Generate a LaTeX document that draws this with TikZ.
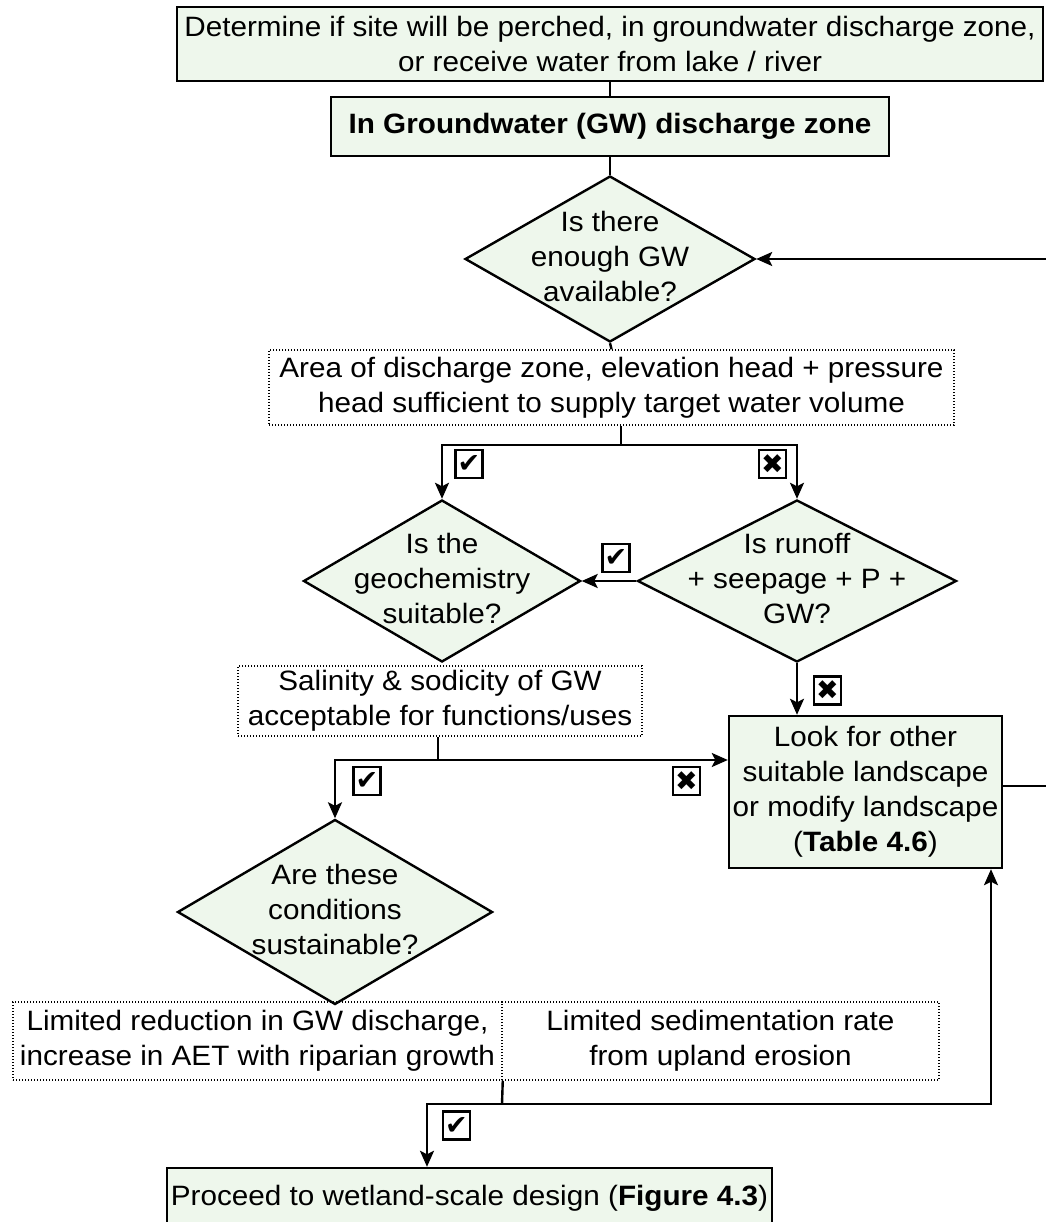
\documentclass[tikz,border=0pt]{standalone}
\usepackage{fontspec}
\setmainfont{Liberation Sans}[FakeStretch=1.06]
\newfontfamily\symfont{DejaVu Sans}
\usetikzlibrary{shapes.geometric,arrows.meta}
\definecolor{boxfill}{RGB}{238,247,236}
\newcommand\dtext[1]{\makebox[0pt]{\raisebox{-0.25em}[0pt][0pt]{\begin{tabular}{@{}c@{}}#1\end{tabular}}}}
\tikzset{
  txt/.style={font=\fontsize{28}{35}\selectfont},
  solidbox/.style={txt,draw,line width=2.4pt,fill=boxfill,align=center,inner sep=0pt},
  dotbox/.style={txt,draw,line width=1.5pt,dash pattern=on 1.4pt off 1.6pt,align=center,inner sep=0pt},
  decision/.style={txt,diamond,draw,line width=2.4pt,fill=boxfill,inner sep=0pt},
  conn/.style={line width=2.4pt},
  arr/.style={conn,-{Stealth[length=16pt,width=14pt,inset=3.5pt]}},
  markbox/.style={draw,line width=2.6pt,minimum width=27pt,minimum height=28pt,inner sep=0pt,font=\symfont\fontsize{27}{27}\selectfont}
}
\begin{document}
\begin{tikzpicture}[x=1pt,y=-1pt]
\useasboundingbox (0,0) rectangle (1045,1222);
% boxes
\node[solidbox,minimum width=866,minimum height=74] (top) at (610,44)
  {Determine if site will be perched, in groundwater discharge zone,\\or receive water from lake / river};
\node[solidbox,minimum width=558,minimum height=59] (gw) at (610,126.5)
  {\textbf{In Groundwater (GW) discharge zone}};
\node[decision,minimum width=290,minimum height=166] (d1) at (610,259)
  {\dtext{Is there\\enough GW\\available?}};
\node[dotbox,minimum width=685,minimum height=75] (db1) at (611.5,387.5)
  {Area of discharge zone, elevation head + pressure\\head sufficient to supply target water volume};
\node[decision,minimum width=277,minimum height=162] (d2) at (442,581)
  {\dtext{Is the\\geochemistry\\suitable?}};
\node[decision,minimum width=319,minimum height=162] (d3) at (797,581)
  {\dtext{Is runoff\\+ seepage + P +\\GW?}};
\node[dotbox,minimum width=404,minimum height=70] (db2) at (440,701)
  {Salinity \& sodicity of GW\\acceptable for functions/uses};
\node[solidbox,minimum width=273,minimum height=152] (look) at (865.5,792)
  {Look for other\\suitable landscape\\or modify landscape\\(\textbf{Table 4.6})};
\node[decision,minimum width=315,minimum height=185] (d4) at (335,912)
  {\dtext{Are these\\conditions\\sustainable?}};
\node[dotbox,minimum width=489,minimum height=78] (db3a) at (257.5,1041)
  {Limited reduction in GW discharge,\\increase in AET with riparian growth};
\node[dotbox,minimum width=437,minimum height=78] (db3b) at (720.5,1041)
  {Limited sedimentation rate\\from upland erosion};
\node[solidbox,minimum width=605,minimum height=60] (fin) at (469.5,1198)
  {Proceed to wetland-scale design (\textbf{Figure 4.3})};
% junction coordinates
\coordinate (rin) at (1046,259);
\coordinate (j1) at (621,445);
\coordinate (j2) at (438,760);
\coordinate (lout) at (1046,786);
\coordinate (j3) at (502,1104);
\coordinate (j4) at (991,1104);
\coordinate (j5) at (427,1104);
% connectors
\draw[conn] (top.south) -- (gw.north);
\draw[conn] (gw.south) -- (d1.north);
\draw[arr] (rin) -- (d1.east);
\draw[conn] (d1.south) -- (db1.north);
\draw[conn] (db1.south -| j1) -- (j1);
\draw[arr] (j1) -| (d2.north);
\draw[arr] (j1) -| (d3.north);
\draw[arr] (d3.west) -- (d2.east);
\draw[arr] (d3.south) -- (d3.south |- look.north);
\draw[conn] (db2.south -| j2) -- (j2);
\draw[arr] (j2) -| (d4.north);
\draw[arr] (j2) -- (j2 -| look.west);
\draw[conn] (look.east |- lout) -- (lout);
\draw[conn] (db3a.south east) -- (j3);
\draw[arr] (j3) -- (j4) -- (j4 |- look.south);
\draw[arr] (j3) -- (j5) -- (j5 |- fin.north);
% marks
\node[markbox] (t1) at (469,464) {✔};
\node[markbox] (x1) at (772.5,464) {✖};
\node[markbox] (t2) at (616,558) {✔};
\node[markbox] (x2) at (827.5,690.5) {✖};
\node[markbox] (t3) at (367,781) {✔};
\node[markbox] (x3) at (686.5,781) {✖};
\node[markbox] (t4) at (456.5,1125.5) {✔};
\end{tikzpicture}
\end{document}
